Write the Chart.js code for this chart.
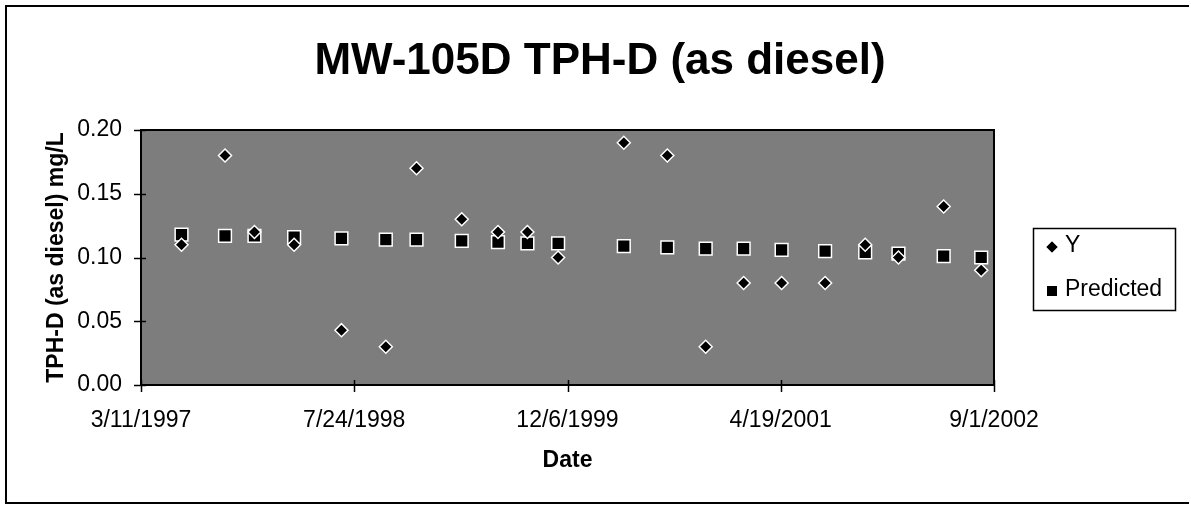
<!DOCTYPE html>
<html>
<head>
<meta charset="utf-8">
<script src="https://cdn.jsdelivr.net/npm/chart.js@4/dist/chart.umd.min.js"></script>
<style>
  html, body { margin: 0; padding: 0; background: #fff; }
  #wrap { width: 1191px; height: 505px; }
</style>
</head>
<body>
<div id="wrap"><canvas id="c" width="1191" height="505"></canvas></div>
<script>
// ---- data ----
const sampleDates = [
  '1997-06-14','1997-09-24','1997-12-02','1998-03-05','1998-06-24','1998-10-06','1998-12-17',
  '1999-04-02','1999-06-26','1999-09-03','1999-11-14','2000-04-16','2000-07-27','2000-10-25',
  '2001-01-22','2001-04-21','2001-08-01','2001-11-03','2002-01-20','2002-05-06','2002-08-02'
];
const yValues = [
  0.11, 0.18, 0.12, 0.11, 0.043, 0.03, 0.17,
  0.13, 0.12, 0.12, 0.10, 0.19, 0.18, 0.03,
  0.08, 0.08, 0.08, 0.11, 0.10, 0.14, 0.09
];
const predictedValues = [
  0.118, 0.117, 0.117, 0.116, 0.115, 0.114, 0.114,
  0.113, 0.112, 0.111, 0.111, 0.109, 0.108, 0.107,
  0.107, 0.106, 0.105, 0.104, 0.103, 0.101, 0.100
];
const xTickDates = ['1997-03-11','1998-07-24','1999-12-06','2001-04-19','2002-09-01'];
const yTicks = [0, 0.05, 0.10, 0.15, 0.20];
const titleText = 'MW-105D TPH-D (as diesel)';
const xTitle = 'Date';
const yTitle = 'TPH-D (as diesel) mg/L';
const seriesNames = ['Y', 'Predicted'];

// ---- helpers ----
function toSerial(s) {
  const [y, m, d] = s.split('-').map(Number);
  return Date.UTC(y, m - 1, d) / 86400000 + 25569;
}
function serialLabel(v) {
  const dt = new Date((v - 25569) * 86400000);
  return (dt.getUTCMonth() + 1) + '/' + dt.getUTCDate() + '/' + dt.getUTCFullYear();
}
const xs = sampleDates.map(toSerial);
const xTickSerials = xTickDates.map(toSerial);

const FONT = "'Liberation Sans', Arial, sans-serif";

const decor = {
  id: 'decor',
  beforeDatasetsDraw(chart) {
    const {ctx, chartArea: a} = chart;
    ctx.save();
    ctx.fillStyle = '#7d7d7d';
    ctx.fillRect(a.left, a.top, a.right - a.left, a.bottom - a.top);
    ctx.restore();
  },
  afterDatasetsDraw(chart) {
    const {ctx, chartArea: a, scales} = chart;
    ctx.save();
    ctx.strokeStyle = '#000';
    ctx.lineWidth = 2;
    ctx.strokeRect(a.left, a.top, a.right - a.left, a.bottom - a.top);
    ctx.lineWidth = 1.5;
    scales.y.ticks.forEach(t => {
      const py = Math.round(scales.y.getPixelForValue(t.value)) + 0.5;
      ctx.beginPath(); ctx.moveTo(a.left - 7, py); ctx.lineTo(a.left + 5, py); ctx.stroke();
    });
    scales.x.ticks.forEach(t => {
      const px = Math.round(scales.x.getPixelForValue(t.value)) + 0.5;
      ctx.beginPath(); ctx.moveTo(px, a.bottom - 5); ctx.lineTo(px, a.bottom + 7); ctx.stroke();
    });
    // outer frame (left, top, bottom)
    ctx.lineWidth = 2;
    ctx.beginPath();
    ctx.moveTo(1189, 6); ctx.lineTo(6, 6); ctx.lineTo(6, 503); ctx.lineTo(1189, 503);
    ctx.stroke();
    // legend
    const lx = 1033, ly = 228, lw = 142, lh = 82;
    ctx.fillStyle = '#fff';
    ctx.fillRect(lx, ly, lw, lh);
    ctx.lineWidth = 1.5;
    ctx.strokeRect(lx + 0.5, ly + 0.5, lw, lh);
    const rows = [247, 291];
    chart.data.datasets.forEach((ds, i) => {
      ctx.fillStyle = '#000';
      Chart.helpers.drawPoint(ctx, {pointStyle: ds.pointStyle, radius: i === 0 ? 5.5 : 7, borderWidth: 0}, 1052, rows[i]);
      ctx.fill();
      ctx.font = '23px ' + FONT;
      ctx.textBaseline = 'middle';
      ctx.textAlign = 'left';
      ctx.fillText(ds.label, 1065, rows[i] - 1);
    });
    ctx.restore();
  }
};

new Chart(document.getElementById('c'), {
  type: 'scatter',
  data: {
    datasets: [
      {
        label: seriesNames[0],
        data: xs.map((x, i) => ({x, y: yValues[i]})),
        pointStyle: 'rectRot',
        pointRadius: 6.5,
        pointBackgroundColor: '#000',
        pointBorderColor: '#fff',
        pointBorderWidth: 1.5,
        order: 1
      },
      {
        label: seriesNames[1],
        data: xs.map((x, i) => ({x, y: predictedValues[i]})),
        pointStyle: 'rect',
        pointRadius: 9,
        pointBackgroundColor: '#000',
        pointBorderColor: '#fff',
        pointBorderWidth: 1.5,
        order: 2
      }
    ]
  },
  options: {
    responsive: false,
    animation: false,
    layout: { padding: { left: 9, right: 0, top: 0, bottom: 0 } },
    plugins: {
      legend: { display: false },
      tooltip: { enabled: false },
      title: {
        display: true,
        text: titleText,
        color: '#000',
        font: { family: FONT, size: 44, weight: 'bold', lineHeight: 1.2 },
        padding: { top: 35, bottom: 42.2 }
      }
    },
    scales: {
      x: {
        type: 'linear',
        min: xTickSerials[0],
        max: xTickSerials[xTickSerials.length - 1],
        afterBuildTicks: s => { s.ticks = xTickSerials.map(v => ({value: v})); },
        afterFit: s => { s.height = 120; },
        grid: { display: false, drawTicks: false },
        border: { display: false },
        ticks: {
          color: '#000', font: { family: FONT, size: 23 }, padding: 22,
          autoSkip: false, maxRotation: 0, minRotation: 0,
          callback: v => serialLabel(v)
        },
        title: {
          display: true, text: xTitle, color: '#000',
          font: { family: FONT, size: 23, weight: 'bold', lineHeight: 1.2 },
          padding: { top: 0, bottom: 31 }
        }
      },
      y: {
        min: 0, max: 0.2,
        afterBuildTicks: s => { s.ticks = yTicks.map(v => ({value: v})); },
        afterFit: s => { s.width = 132; },
        grid: { display: false, drawTicks: false },
        border: { display: false },
        ticks: {
          color: '#000', font: { family: FONT, size: 23 }, padding: 19,
          callback: v => Number(v).toFixed(2)
        },
        title: {
          display: true, text: yTitle, color: '#000',
          font: { family: FONT, size: 23, weight: 'bold', lineHeight: 1.2 },
          padding: { top: 34, bottom: 0 }
        }
      },
      legendSpace: {
        type: 'linear',
        position: 'right',
        display: true,
        min: 0, max: 1,
        afterFit: s => { s.width = 197; },
        grid: { display: false, drawTicks: false },
        border: { display: false },
        ticks: { display: false }
      }
    }
  },
  plugins: [decor]
});
</script>
</body>
</html>
